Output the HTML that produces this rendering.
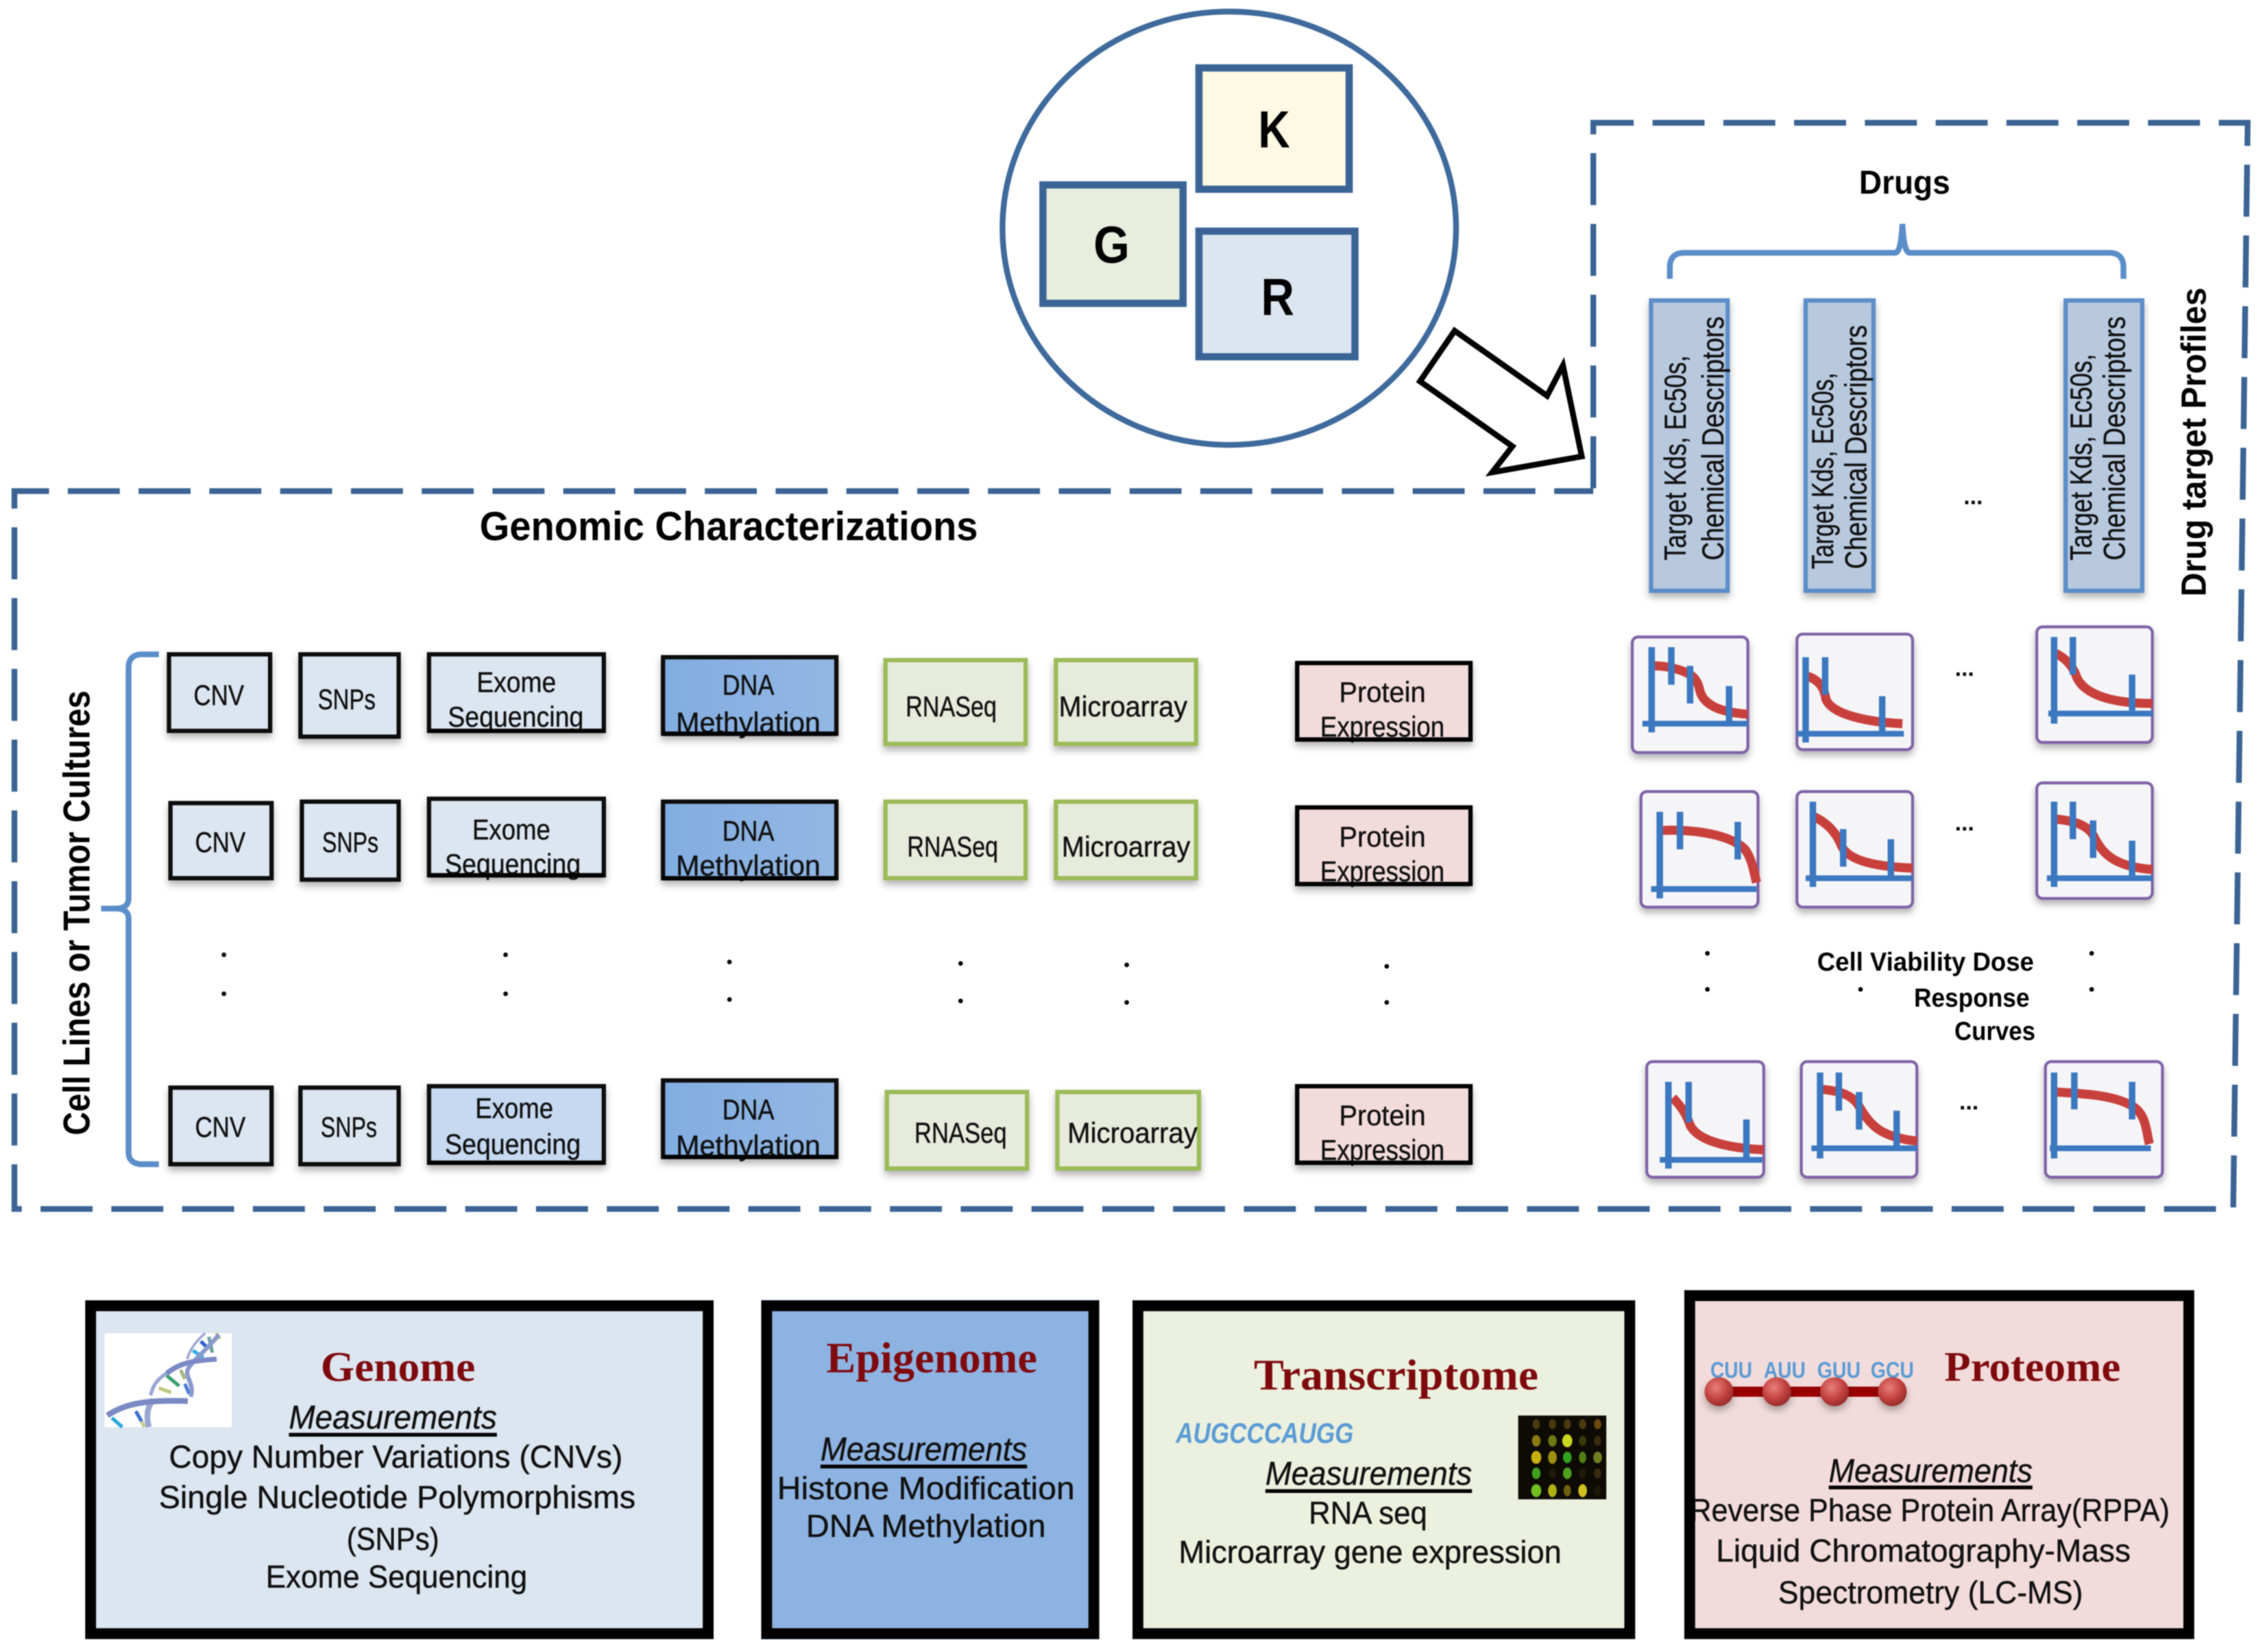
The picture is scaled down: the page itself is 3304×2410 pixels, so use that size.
<!DOCTYPE html>
<html><head><meta charset="utf-8"><title>Diagram</title>
<style>
html,body{margin:0;padding:0;background:#fff;width:3304px;height:2410px;overflow:hidden}
svg{display:block;filter:blur(.8px)}
text{font-family:"Liberation Sans",sans-serif;fill:#111;stroke:#111;stroke-width:.2}
.b{font-weight:bold;fill:#000;stroke:none}
.s{font-family:"Liberation Serif",serif;font-weight:bold;fill:#7f0a0e;stroke:none}
.m{font-style:italic}
.blue{fill:#dce6f1;stroke:#111;stroke-width:3}
.blue2{fill:#c6d9f0;stroke:#111;stroke-width:3}
.dna{fill:#8db3e2;stroke:#111;stroke-width:3}
.grn{fill:#e6ebdc;stroke:#9bbb59;stroke-width:3}
.pnk{fill:#f2dcdb;stroke:#000;stroke-width:3}
.ch{fill:#f5f5f8;stroke:#7f62a6;stroke-width:2}
.ax{stroke:#3b78c0;stroke-width:4.500;fill:none}
.hx{stroke:#3b78c0;stroke-width:4;fill:none}
.cv{stroke:#c8403c;stroke-width:6.300;fill:none;stroke-linecap:butt;stroke-linejoin:round}
</style></head><body>
<svg xmlns="http://www.w3.org/2000/svg" width="3304" height="2410" viewBox="0 0 1568 1143.7">
<defs>
<filter id="sh" x="-20%" y="-20%" width="140%" height="150%"><feDropShadow dx="0" dy="3" stdDeviation="2.500" flood-color="#000" flood-opacity=".3"/></filter>
<linearGradient id="dg" x1="0" x2="1" y1="0" y2="0"><stop offset="0" stop-color="#82ade0"/><stop offset="1" stop-color="#92b7e4"/></linearGradient>
<radialGradient id="ball" cx=".4" cy=".35" r=".7"><stop offset="0" stop-color="#e8807c"/><stop offset=".6" stop-color="#c0403e"/><stop offset="1" stop-color="#902a28"/></radialGradient>
</defs>

<!-- dashed frame -->
<path d="M1103 338V85H1556L1546 837H10V340H1103" fill="none" stroke="#3b6494" stroke-width="4" stroke-dasharray="36 13"/>

<!-- GKR circle -->
<ellipse cx="851" cy="158" rx="157" ry="150" fill="#fff" stroke="#3e6a9c" stroke-width="4"/>
<rect x="830" y="47" width="104" height="84" fill="#fdf9e3" stroke="#3b6496" stroke-width="5"/>
<rect x="722" y="128" width="97" height="82" fill="#e8eedd" stroke="#3b6496" stroke-width="5"/>
<rect x="830" y="160" width="108" height="87" fill="#dce6f1" stroke="#3b6496" stroke-width="5"/>
<text class="b" x="871" y="102" font-size="36" textLength="22" lengthAdjust="spacingAndGlyphs">K</text>
<text class="b" x="757" y="182" font-size="36" textLength="25" lengthAdjust="spacingAndGlyphs">G</text>
<text class="b" x="873" y="218" font-size="36" textLength="23" lengthAdjust="spacingAndGlyphs">R</text>
<polygon points="1007,229 1071,274 1082,253 1095,316 1033,327 1047,309 983,264" fill="#fff" stroke="#000" stroke-width="4"/>

<!-- titles -->
<text class="b" x="332" y="374" font-size="28" textLength="345" lengthAdjust="spacingAndGlyphs">Genomic Characterizations</text>
<text class="b" x="1287" y="134" font-size="23" textLength="63" lengthAdjust="spacingAndGlyphs">Drugs</text>
<path d="M1156 193V185Q1156 175 1166 175H1312Q1316 175 1317 155Q1318 175 1322 175H1460Q1470 175 1470 185V193" fill="none" stroke="#5b8ec9" stroke-width="4"/>
<text class="b" transform="translate(1527 413) rotate(-90)" font-size="24" textLength="214" lengthAdjust="spacingAndGlyphs">Drug target Profiles</text>
<text class="b" transform="translate(62 786) rotate(-90)" font-size="26" textLength="308" lengthAdjust="spacingAndGlyphs">Cell Lines or Tumor Cultures</text>
<path d="M110 453H97Q89 454 89 462V622Q89 629 80 629H70H80Q89 629 89 636V798Q89 805 97 806H110" fill="none" stroke="#5b8ec9" stroke-width="4"/>

<!-- drug bars -->
<g fill="#b8c9de" stroke="#5b8ec9" stroke-width="3" filter="url(#sh)">
<rect x="1143" y="208" width="53" height="201"/><rect x="1250" y="208" width="47" height="201"/><rect x="1430" y="208" width="53" height="201"/>
</g>
<g font-size="21">
<text transform="translate(1167 388) rotate(-90)" textLength="142" lengthAdjust="spacingAndGlyphs">Target Kds, Ec50s,</text>
<text transform="translate(1193 388) rotate(-90)" textLength="169" lengthAdjust="spacingAndGlyphs">Chemical Descriptors</text>
<text transform="translate(1269 394) rotate(-90)" textLength="136" lengthAdjust="spacingAndGlyphs">Target Kds, Ec50s,</text>
<text transform="translate(1292 394) rotate(-90)" textLength="169" lengthAdjust="spacingAndGlyphs">Chemical Descriptors</text>
<text transform="translate(1448 388) rotate(-90)" textLength="143" lengthAdjust="spacingAndGlyphs">Target Kds, Ec50s,</text>
<text transform="translate(1471 388) rotate(-90)" textLength="169" lengthAdjust="spacingAndGlyphs">Chemical Descriptors</text>
</g>
<g font-size="16" text-anchor="middle">
<text class="b" x="1366" y="349">...</text><text class="b" x="1360" y="468">...</text><text class="b" x="1360" y="575">...</text><text class="b" x="1363" y="768">...</text>
</g>

<!-- boxes -->
<g filter="url(#sh)">
<rect class="blue" x="117" y="453" width="70" height="53"/><rect class="blue" x="208" y="453" width="68" height="57"/><rect class="blue" x="297" y="453" width="121" height="53"/><rect class="dna" style="fill:url(#dg)" x="459" y="455" width="120" height="53"/><rect class="grn" x="613" y="457" width="97" height="58"/><rect class="grn" x="731" y="457" width="97" height="58"/><rect class="pnk" x="898" y="459" width="120" height="53"/>
<rect class="blue" x="118" y="556" width="70" height="52"/><rect class="blue" x="209" y="555" width="67" height="54"/><rect class="blue" x="297" y="553" width="121" height="53"/><rect class="dna" style="fill:url(#dg)" x="459" y="555" width="120" height="53"/><rect class="grn" x="613" y="555" width="97" height="53"/><rect class="grn" x="731" y="555" width="97" height="53"/><rect class="pnk" x="898" y="559" width="120" height="53"/>
<rect class="blue" x="118" y="753" width="70" height="53"/><rect class="blue" x="208" y="753" width="68" height="53"/><rect class="blue2" x="297" y="752" width="121" height="53"/><rect class="dna" style="fill:url(#dg)" x="459" y="748" width="120" height="53"/><rect class="grn" x="614" y="756" width="97" height="53"/><rect class="grn" x="732" y="756" width="98" height="53"/><rect class="pnk" x="898" y="752" width="120" height="53"/>
</g>
<g font-size="20">
<text x="134" y="488" textLength="35" lengthAdjust="spacingAndGlyphs">CNV</text><text x="220" y="491" textLength="40" lengthAdjust="spacingAndGlyphs">SNPs</text>
<text x="330" y="479" textLength="55" lengthAdjust="spacingAndGlyphs">Exome</text><text x="310" y="503" textLength="94" lengthAdjust="spacingAndGlyphs">Sequencing</text>
<text x="500" y="481" textLength="36" lengthAdjust="spacingAndGlyphs">DNA</text><text x="468" y="507" textLength="100" lengthAdjust="spacingAndGlyphs">Methylation</text>
<text x="627" y="496" textLength="63" lengthAdjust="spacingAndGlyphs">RNASeq</text><text x="733" y="496" textLength="89" lengthAdjust="spacingAndGlyphs">Microarray</text>
<text x="927" y="486" textLength="60" lengthAdjust="spacingAndGlyphs">Protein</text><text x="914" y="510" textLength="86" lengthAdjust="spacingAndGlyphs">Expression</text>

<text x="135" y="590" textLength="35" lengthAdjust="spacingAndGlyphs">CNV</text><text x="223" y="590" textLength="39" lengthAdjust="spacingAndGlyphs">SNPs</text>
<text x="327" y="581" textLength="54" lengthAdjust="spacingAndGlyphs">Exome</text><text x="308" y="605" textLength="94" lengthAdjust="spacingAndGlyphs">Sequencing</text>
<text x="500" y="582" textLength="36" lengthAdjust="spacingAndGlyphs">DNA</text><text x="468" y="606" textLength="100" lengthAdjust="spacingAndGlyphs">Methylation</text>
<text x="628" y="593" textLength="63" lengthAdjust="spacingAndGlyphs">RNASeq</text><text x="735" y="593" textLength="89" lengthAdjust="spacingAndGlyphs">Microarray</text>
<text x="927" y="586" textLength="60" lengthAdjust="spacingAndGlyphs">Protein</text><text x="914" y="610" textLength="86" lengthAdjust="spacingAndGlyphs">Expression</text>

<text x="135" y="787" textLength="35" lengthAdjust="spacingAndGlyphs">CNV</text><text x="222" y="787" textLength="39" lengthAdjust="spacingAndGlyphs">SNPs</text>
<text x="329" y="774" textLength="54" lengthAdjust="spacingAndGlyphs">Exome</text><text x="308" y="799" textLength="94" lengthAdjust="spacingAndGlyphs">Sequencing</text>
<text x="500" y="775" textLength="36" lengthAdjust="spacingAndGlyphs">DNA</text><text x="468" y="800" textLength="100" lengthAdjust="spacingAndGlyphs">Methylation</text>
<text x="633" y="791" textLength="64" lengthAdjust="spacingAndGlyphs">RNASeq</text><text x="739" y="791" textLength="90" lengthAdjust="spacingAndGlyphs">Microarray</text>
<text x="927" y="779" textLength="60" lengthAdjust="spacingAndGlyphs">Protein</text><text x="914" y="803" textLength="86" lengthAdjust="spacingAndGlyphs">Expression</text>
</g>
<g stroke="#000" stroke-width="3">
<path d="M297 506H418M459 508H579M898 512H1018M297 606H418M459 608H579M898 612H1018M297 805H418M459 801H579M898 805H1018"/>
</g>

<!-- dots -->
<g fill="#000">
<circle cx="155" cy="661" r="1.600"/><circle cx="155" cy="688" r="1.600"/><circle cx="350" cy="661" r="1.600"/><circle cx="350" cy="688" r="1.600"/><circle cx="505" cy="666" r="1.600"/><circle cx="505" cy="692" r="1.600"/><circle cx="665" cy="667" r="1.600"/><circle cx="665" cy="693" r="1.600"/><circle cx="780" cy="668" r="1.600"/><circle cx="780" cy="694" r="1.600"/><circle cx="960" cy="669" r="1.600"/><circle cx="960" cy="694" r="1.600"/><circle cx="1182" cy="660" r="1.600"/><circle cx="1182" cy="685" r="1.600"/><circle cx="1288" cy="685" r="1.600"/><circle cx="1448" cy="660" r="1.600"/><circle cx="1448" cy="685" r="1.600"/>
</g>
<g font-size="18">
<text class="b" x="1258" y="672" textLength="150" lengthAdjust="spacingAndGlyphs">Cell Viability Dose</text>
<text class="b" x="1325" y="697" textLength="80" lengthAdjust="spacingAndGlyphs">Response</text>
<text class="b" x="1353" y="720" textLength="56" lengthAdjust="spacingAndGlyphs">Curves</text>
</g>

<!-- charts -->
<g transform="translate(1130 441)"><rect class="ch" width="80" height="80" rx="4" filter="url(#sh)"/>
<path class="cv" d="M14 20C22 20 28 21 36 24C46 28 46 35 47 38C50 47 60 52 80 53.500"/>
<path class="ax" d="M13.400 7V66M27 7V33M40 20V46M67 34V60"/><path class="hx" d="M7 60H80"/></g>
<g transform="translate(1244 439)"><rect class="ch" width="80" height="80" rx="4" filter="url(#sh)"/>
<path class="cv" d="M7 29C16 32 19 38 20 45C24 56 50 61 73 62"/>
<path class="ax" d="M6 16V75M19.500 16V42M59 43V69"/><path class="hx" d="M0 69H74"/></g>
<g transform="translate(1410 434)"><rect class="ch" width="80" height="80" rx="4" filter="url(#sh)"/>
<path class="cv" d="M12 18C20 21 25 28 27 33C31 46 50 53 80 53"/>
<path class="ax" d="M12 7V67M25 7V33M66 33V58"/><path class="hx" d="M8 60H80"/></g>

<g transform="translate(1136 548)"><rect class="ch" width="81" height="80" rx="4" filter="url(#sh)"/>
<path class="cv" d="M13 27C30 26 60 28 72 40C77 47 78 55 80 63"/>
<path class="ax" d="M13 14V74M27 14V40M67 21V47"/><path class="hx" d="M7 67.500H80"/></g>
<g transform="translate(1244 548)"><rect class="ch" width="80" height="80" rx="4" filter="url(#sh)"/>
<path class="cv" d="M11 17C22 22 28 30 31 38C36 48 55 52 80 53"/>
<path class="ax" d="M11 7V66M32 26V52M65 33V60"/><path class="hx" d="M6 60H80"/></g>
<g transform="translate(1410 542)"><rect class="ch" width="80" height="80" rx="4" filter="url(#sh)"/>
<path class="cv" d="M12 25C25 26 36 29 40 38C46 50 55 58 80 60"/>
<path class="ax" d="M12 13V72M25 13V39M39 26V52M66 40V67"/><path class="hx" d="M7 66H80"/></g>

<g transform="translate(1140 735)"><rect class="ch" width="81" height="80" rx="4" filter="url(#sh)"/>
<path class="cv" d="M18 25C25 32 28 38 30 44C36 56 60 60 81 61"/>
<path class="ax" d="M15 14V74M29 14V42M69 40V67"/><path class="hx" d="M9 68H80"/></g>
<g transform="translate(1247 735)"><rect class="ch" width="80" height="80" rx="4" filter="url(#sh)"/>
<path class="cv" d="M13 19C24 20 35 22 40 31C48 44 54 52 80 55"/>
<path class="ax" d="M13 7.500V67M26 7.500V34M40 21V47M66 34V60"/><path class="hx" d="M7 60H80"/></g>
<g transform="translate(1416 735)"><rect class="ch" width="81" height="80" rx="4" filter="url(#sh)"/>
<path class="cv" d="M6 21C25 22 50 23 62 32C70 38 70 50 72 57"/>
<path class="ax" d="M6 7.500V67M20 7.500V33M60 14V40"/><path class="hx" d="M3 60H73"/></g>

<!-- bottom panels -->
<rect x="59" y="900" width="435" height="235" fill="#dce6f1"/>
<rect x="527" y="900" width="234" height="235" fill="#8db3e2"/>
<rect x="784" y="900" width="348" height="235" fill="#ebf1de"/>
<rect x="1166" y="893" width="353" height="242" fill="#f2dcdb"/>

<!-- helix -->
<rect x="72.400" y="923" width="88" height="65" fill="#fff"/>
<g fill="none">
<g stroke-width="2.500">
<path stroke="#29a8e0" d="M77.500 981.600L84.600 988"/><path stroke="#3a70d0" d="M94 977L98 984"/><path stroke="#c8cc90" d="M98 984L100 988"/>
<path stroke="#b8c880" d="M110 961L118.500 964"/><path stroke="#3aa070" d="M115.400 952.300L124 959.500"/><path stroke="#a8b880" d="M125 948.400L128 954.700"/><path stroke="#4a80d8" d="M128 958L131 965"/>
<path stroke="#30b0e0" d="M133.500 935L140.700 939.700"/><path stroke="#2a60d0" d="M139 928.600L144.600 934"/><path stroke="#70a0a0" d="M144.600 925.500L147 936.500"/><path stroke="#c8cc70" d="M149.700 923L152 927"/>
</g>
<path stroke="#a0a8d4" stroke-width="1.800" d="M129.600 941C131 935 136 928 142 923"/>
<path stroke="#9aa6d2" stroke-width="2.500" d="M104.300 966C106 958 110 954 115.400 950.800"/>
<path stroke="#8a98cc" stroke-width="3" d="M132 967C135 958 128 954 130 948C134 941 144 934 151.500 924"/>
<path stroke="#7a88c4" stroke-width="3.500" d="M115.400 950.800C124 944 132 942 150 941"/>
<path stroke="#9aa6d2" stroke-width="4" d="M103 988C101 980 102 974 106 969"/>
<path stroke="#7a88c4" stroke-width="4" d="M74.300 980C86 972 100 969 130 970"/>
</g>

<text class="s" x="222" y="956" font-size="29" textLength="107" lengthAdjust="spacingAndGlyphs">Genome</text>
<g font-size="23"><text class="m" x="200" y="989" textLength="144" lengthAdjust="spacingAndGlyphs">Measurements</text></g>
<rect x="200" y="992" width="144" height="2.600" fill="#000"/>
<g font-size="22">
<text x="117" y="1016" textLength="314" lengthAdjust="spacingAndGlyphs">Copy Number Variations (CNVs)</text>
<text x="110" y="1044" textLength="330" lengthAdjust="spacingAndGlyphs">Single Nucleotide Polymorphisms</text>
<text x="240" y="1073" textLength="64" lengthAdjust="spacingAndGlyphs">(SNPs)</text>
<text x="184" y="1099" textLength="181" lengthAdjust="spacingAndGlyphs">Exome Sequencing</text>
</g>

<text class="s" x="572" y="950" font-size="30" textLength="146" lengthAdjust="spacingAndGlyphs">Epigenome</text>
<text class="m" x="568" y="1011" font-size="23" textLength="143" lengthAdjust="spacingAndGlyphs">Measurements</text>
<rect x="568" y="1014" width="143" height="2.600" fill="#000"/>
<g font-size="22">
<text x="538" y="1038" textLength="206" lengthAdjust="spacingAndGlyphs">Histone Modification</text>
<text x="558" y="1064" textLength="166" lengthAdjust="spacingAndGlyphs">DNA Methylation</text>
</g>

<text class="s" x="868" y="962" font-size="30" textLength="197" lengthAdjust="spacingAndGlyphs">Transcriptome</text>
<text x="814" y="999" font-size="20" font-weight="bold" font-style="italic" style="fill:#5b9bd5;stroke:none" textLength="123" lengthAdjust="spacingAndGlyphs">AUGCCCAUGG</text>
<rect x="1051" y="980" width="61" height="58" fill="#0e0a04"/>
<g>
<ellipse cx="1063.500" cy="986" rx="2.500" ry="3.500" fill="#4a3a10"/><ellipse cx="1074.700" cy="986" rx="2.500" ry="3.500" fill="#4a3a10"/><ellipse cx="1085" cy="986" rx="2.500" ry="3.500" fill="#4a3a10"/><ellipse cx="1095.600" cy="986" rx="2.500" ry="3.500" fill="#4a3a10"/><ellipse cx="1106" cy="986" rx="2.500" ry="3.500" fill="#6a4a10"/>
<ellipse cx="1063.500" cy="997.500" rx="3" ry="4" fill="#8a7a10"/><ellipse cx="1074.700" cy="997.500" rx="3" ry="4" fill="#6a7a10"/><ellipse cx="1085" cy="997.500" rx="3.500" ry="4.500" fill="#c8d820"/><ellipse cx="1095.600" cy="997.500" rx="2.500" ry="3.500" fill="#3a3a10"/><ellipse cx="1106" cy="997.500" rx="2.500" ry="3.500" fill="#3a2a10"/>
<ellipse cx="1063.500" cy="1009" rx="3.500" ry="4.500" fill="#c8b010"/><ellipse cx="1074.700" cy="1009" rx="3" ry="4.500" fill="#a09010"/><ellipse cx="1085" cy="1009" rx="3" ry="4" fill="#30a020"/><ellipse cx="1095.600" cy="1009" rx="2.500" ry="4" fill="#508010"/><ellipse cx="1106" cy="1009" rx="3" ry="4" fill="#708020"/>
<ellipse cx="1063.500" cy="1020" rx="3" ry="4" fill="#40a020"/><ellipse cx="1074.700" cy="1020" rx="2.500" ry="3.500" fill="#201a08"/><ellipse cx="1085" cy="1020" rx="3" ry="4" fill="#50a020"/><ellipse cx="1095.600" cy="1020" rx="2.500" ry="3.500" fill="#201a08"/><ellipse cx="1106" cy="1020" rx="2.500" ry="3.500" fill="#3a2a10"/>
<ellipse cx="1063.500" cy="1032" rx="3.500" ry="4.500" fill="#70c020"/><ellipse cx="1074.700" cy="1032" rx="3" ry="4.500" fill="#b0b010"/><ellipse cx="1085" cy="1032" rx="2.500" ry="4" fill="#706010"/><ellipse cx="1095.600" cy="1032" rx="3" ry="4.500" fill="#d0c020"/><ellipse cx="1106" cy="1032" rx="2.500" ry="3.500" fill="#1a1a08"/>
</g>
<text class="m" x="876" y="1028" font-size="23" textLength="143" lengthAdjust="spacingAndGlyphs">Measurements</text>
<rect x="876" y="1031" width="143" height="2.600" fill="#000"/>
<g font-size="22">
<text x="906" y="1055" textLength="82" lengthAdjust="spacingAndGlyphs">RNA seq</text>
<text x="816" y="1082" textLength="265" lengthAdjust="spacingAndGlyphs">Microarray gene expression</text>
</g>

<text class="s" x="1346" y="956" font-size="29" textLength="122" lengthAdjust="spacingAndGlyphs">Proteome</text>
<g font-size="16" font-weight="bold">
<text x="1184" y="954" style="fill:#5b9bd5;stroke:none" textLength="29" lengthAdjust="spacingAndGlyphs">CUU</text>
<text x="1221" y="954" style="fill:#5b9bd5;stroke:none" textLength="29" lengthAdjust="spacingAndGlyphs">AUU</text>
<text x="1258" y="954" style="fill:#5b9bd5;stroke:none" textLength="30" lengthAdjust="spacingAndGlyphs">GUU</text>
<text x="1295" y="954" style="fill:#5b9bd5;stroke:none" textLength="30" lengthAdjust="spacingAndGlyphs">GCU</text>
</g>
<rect x="1190" y="960" width="120" height="7" fill="#9b0000"/>
<g filter="url(#sh)" fill="url(#ball)">
<ellipse cx="1190" cy="963.500" rx="10" ry="10"/><ellipse cx="1230" cy="963.500" rx="10" ry="10"/><ellipse cx="1270" cy="963.500" rx="10" ry="10"/><ellipse cx="1310" cy="963.500" rx="10" ry="10"/>
</g>
<text class="m" x="1266" y="1026" font-size="23" textLength="141" lengthAdjust="spacingAndGlyphs">Measurements</text>
<rect x="1266" y="1028.500" width="141" height="2.600" fill="#000"/>
<g font-size="22">
<text x="1170" y="1053" textLength="332" lengthAdjust="spacingAndGlyphs">Reverse Phase Protein Array(RPPA)</text>
<text x="1188" y="1081" textLength="287" lengthAdjust="spacingAndGlyphs">Liquid Chromatography-Mass</text>
<text x="1231" y="1110" textLength="211" lengthAdjust="spacingAndGlyphs">Spectrometry  (LC-MS)</text>
</g>

<!-- panel borders on top -->
<g fill="none" stroke="#000" stroke-width="7.500">
<rect x="62.750" y="904" width="427.500" height="227"/>
<rect x="530.750" y="904" width="226.500" height="227"/>
<rect x="787.750" y="904" width="340.500" height="227"/>
<rect x="1169.750" y="897" width="345.500" height="234"/>
</g>
</svg>
</body></html>
